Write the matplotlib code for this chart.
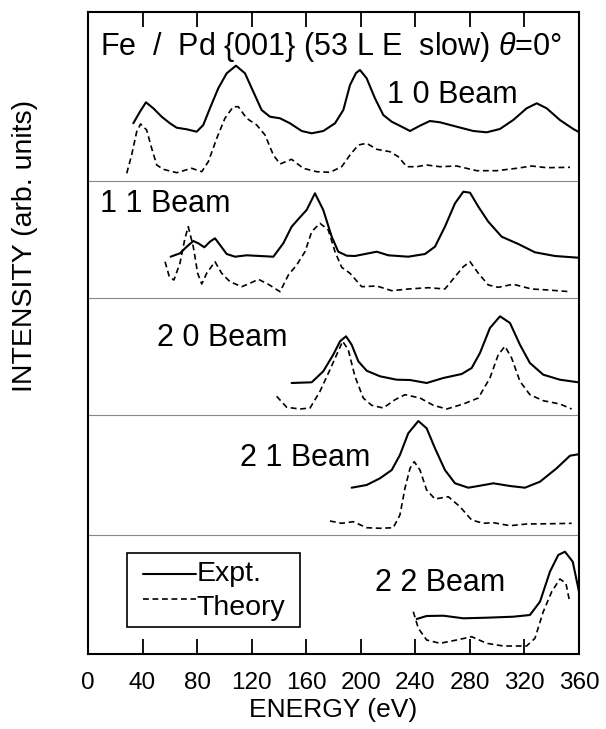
import matplotlib
matplotlib.use("Agg")
import matplotlib.pyplot as plt
from matplotlib.lines import Line2D
from matplotlib.patches import Rectangle

plt.rcParams['font.family'] = ['Liberation Sans', 'DejaVu Sans']
plt.rcParams['mathtext.fontset'] = 'custom'
plt.rcParams['mathtext.it'] = 'Liberation Sans:italic'

# ---------------- data (energy in eV, intensity in arbitrary units) ----------------
beams = ["1 0 Beam", "1 1 Beam", "2 0 Beam", "2 1 Beam", "2 2 Beam"]
offsets = [473, 356, 239, 119, 0]          # vertical offset of each beam panel
separators = [473, 356, 239, 119]

e10_expt = [33.2, 38.1, 42.5, 47.9, 54.0, 60.1, 65.0, 72.4, 79.7, 84.5, 89.4, 95.5, 101.7, 108.5, 115.1, 121.2, 127.3, 133.4, 140.8, 148.1, 156.7, 164.0, 172.5, 181.1, 187.2, 192.1, 196.5, 199.4, 204.3, 210.4, 216.5, 222.7, 230.0, 236.1, 243.4, 250.7, 258.1, 270.3, 282.5, 292.3, 302.0, 311.8, 321.6, 329.0, 336.3, 346.0, 355.8, 359.8]
i10_expt = [57.7, 69.3, 78.7, 72.7, 64.3, 57.7, 53.3, 51.7, 49.3, 56, 72.7, 92.7, 107.7, 115.3, 107.7, 89.3, 71, 64.3, 62.7, 57.7, 50, 47.7, 50, 57.7, 71, 96, 108, 111, 102.7, 82.7, 66, 59.3, 54.3, 50, 55.3, 60, 58.7, 54.3, 50, 48.7, 52, 61, 72.7, 77.7, 72.7, 61, 52, 49]
e10_theo = [28.4, 32.0, 35.7, 38.6, 43.0, 46.7, 50.4, 55.2, 65.0, 76.0, 83.4, 88.2, 94.4, 100.4, 106.5, 110.2, 116.3, 123.7, 129.8, 135.9, 140.8, 149.3, 157.8, 167.7, 177.4, 186.0, 192.1, 198.2, 204.3, 211.7, 221.4, 227.5, 233.7, 241.0, 248.3, 258.1, 270.3, 285.0, 299.6, 314.3, 325.3, 336.3, 353.4]
i10_theo = [7.7, 26, 49.3, 57, 51, 32.7, 16, 11.7, 8.3, 12.7, 9.3, 19.3, 42.7, 62.7, 74.3, 74.3, 62.7, 56, 46, 26, 17, 21.7, 12.7, 9.3, 8.7, 14.3, 26, 36, 37.7, 31.7, 29.3, 24.3, 14.3, 14.3, 16, 14.3, 15, 10.3, 10.3, 12.7, 15, 13.3, 13.7]

e11_expt = [60.6, 67.4, 72.4, 77.2, 80.9, 85.3, 89.4, 93.1, 96.8, 101.7, 107.8, 116.3, 126.1, 135.9, 143.2, 149.3, 155.4, 160.3, 166.4, 172.5, 178.7, 183.5, 189.7, 195.7, 203.1, 211.7, 220.2, 234.8, 247.1, 254.4, 261.7, 269.1, 275.2, 280.1, 286.2, 293.5, 303.3, 315.5, 327.7, 342.4, 359.5]
i11_expt = [41.3, 44.7, 51.3, 57, 54.7, 50.7, 56.3, 59.7, 53, 44, 41.3, 42.7, 42, 41.3, 54.7, 71.3, 80.7, 88, 104.7, 88, 61.3, 46.3, 42.3, 42, 44, 46.3, 42.7, 41.3, 44, 51.3, 71.3, 94.7, 106.3, 105.3, 91.3, 76.3, 61.3, 54, 45.7, 42, 40.3]
e11_theo = [56.5, 59.6, 63.0, 67.4, 71.1, 73.5, 77.2, 80.4, 83.4, 87.0, 93.1, 98.0, 104.1, 112.7, 118.8, 124.9, 132.2, 140.8, 146.9, 153.0, 159.1, 164.0, 170.1, 176.2, 181.1, 186.0, 192.1, 200.7, 211.7, 222.7, 234.8, 249.5, 261.7, 269.1, 275.2, 280.1, 286.2, 293.5, 300.8, 311.8, 325.3, 337.5, 353.4]
i11_theo = [36.3, 21.3, 18, 34.7, 59.7, 71.3, 51.3, 24.7, 14, 24.7, 36.3, 24.7, 16.3, 11.3, 14.7, 18.7, 13.7, 6.3, 23, 33, 46.3, 66.3, 74.7, 68, 46.3, 30.7, 24.7, 11.3, 12, 7.3, 9, 10.3, 9, 21.3, 31.3, 36.3, 24.7, 13, 10.7, 13.7, 9, 8, 6.3]

e20_expt = [149.3, 164.0, 172.5, 179.8, 184.8, 189.2, 193.3, 198.2, 204.3, 214.1, 226.3, 236.1, 248.3, 260.5, 274.0, 281.3, 287.4, 294.7, 302.1, 309.4, 316.7, 324.0, 333.8, 346.0, 359.5]
i20_expt = [32, 32.7, 43.7, 60.3, 73.7, 78.7, 70.3, 53.7, 44.3, 38.7, 35.3, 35, 32, 37, 41, 47, 62, 87, 98.7, 92, 70.3, 52, 40.3, 35.3, 32.7]
e20_theo = [138.3, 145.7, 155.4, 162.8, 170.1, 177.4, 182.3, 186.7, 190.8, 195.7, 201.8, 208.0, 216.5, 225.1, 232.4, 243.4, 253.2, 263.0, 275.2, 286.2, 294.7, 300.8, 305.7, 310.6, 316.7, 324.0, 333.8, 346.0, 354.6]
i20_theo = [18.7, 7.7, 6, 7, 23.7, 45.3, 60.3, 73.7, 65.3, 38.7, 17, 9.7, 7, 15.3, 20.3, 17, 9.7, 6, 11, 17, 37, 60.3, 68.7, 57, 33.7, 20.3, 14.3, 11, 6]

e21_expt = [193.3, 204.3, 214.1, 222.7, 228.7, 234.8, 242.2, 248.3, 254.4, 261.7, 269.1, 278.8, 287.4, 297.2, 309.4, 320.4, 331.4, 343.6, 353.4, 359.5]
i21_expt = [47.3, 50, 56.7, 65, 80, 101.7, 114, 106.7, 86.7, 65, 51.7, 47.3, 49.3, 51.7, 49, 47.3, 53.3, 66.7, 79.3, 80.7]
e21_theo = [177.4, 186.0, 194.5, 204.3, 214.1, 223.8, 228.7, 232.4, 236.1, 239.2, 243.4, 248.3, 254.4, 264.2, 272.7, 281.3, 289.8, 297.2, 309.4, 321.6, 341.1, 354.6]
i21_theo = [14, 11.7, 13.3, 7.3, 6.7, 7.3, 20, 46.7, 66.7, 73.3, 65, 45, 36, 38.3, 28.3, 15, 11.7, 12.3, 9.3, 11, 11.3, 11.7]

e22_expt = [241.0, 248.3, 260.5, 275.2, 292.3, 311.8, 324.0, 331.4, 338.7, 344.8, 349.7, 355.4, 360.0]
i22_expt = [35, 38, 38.3, 35.7, 36.3, 37.3, 39, 52.3, 82.3, 99, 102.3, 92.3, 62.3]
e22_theo = [238.5, 242.2, 248.3, 258.1, 270.3, 281.3, 292.3, 304.5, 321.6, 327.7, 333.8, 340.0, 346.0, 350.4, 352.9]
i22_theo = [42.3, 25.7, 14, 10.7, 14, 17.3, 10.7, 8, 8, 15.7, 42.3, 62.3, 75, 70.7, 54]

expt = [(e10_expt, i10_expt), (e11_expt, i11_expt), (e20_expt, i20_expt), (e21_expt, i21_expt), (e22_expt, i22_expt)]
theo = [(e10_theo, i10_theo), (e11_theo, i11_theo), (e20_theo, i20_theo), (e21_theo, i21_theo), (e22_theo, i22_theo)]

xticks = [0, 40, 80, 120, 160, 200, 240, 280, 320, 360]
title = "Fe  /  Pd {001} (53 L E  slow) $\\theta$=0°"
label_pos = [(219, 559), (8.8, 450), (50.6, 316), (111.4, 196), (210.4, 71)]
legend_labels = ["Expt.", "Theory"]

# ---------------- plotting ----------------
fig = plt.figure(figsize=(6.06, 7.29), dpi=100)
ax = fig.add_axes([88/606, 75/729, 491/606, 642/729])
ax.set_xlim(0, 360)
ax.set_ylim(0, 642)

for s in separators:
    ax.axhline(s, color='#888888', lw=0.8)

SOLID = dict(color='black', lw=1.5, solid_joinstyle='round', solid_capstyle='round')
DASHED = dict(color='black', lw=1.2, dashes=(3.5, 2.2), dash_joinstyle='round')

for (ex, ey), (tx, ty), off in zip(expt, theo, offsets):
    ax.plot(ex, [v + off for v in ey], **SOLID)
    ax.plot(tx, [v + off for v in ty], **DASHED)

for name, (x, y) in zip(beams, label_pos):
    ax.text(x, y, name, fontsize=22, ha='left', va='center')

ax.text(8.8, 607, title, fontsize=22, ha='left', va='center')

for sp in ax.spines.values():
    sp.set_linewidth(1.5)

ax.set_xticks(xticks)
ax.set_xticklabels([str(t) for t in xticks])
ax.tick_params(axis='x', direction='in', length=11, width=1.3, top=True, labelsize=17.5, pad=13)
ax.set_yticks([])

ax.set_xlabel("ENERGY (eV)", fontsize=19, labelpad=3)
fig.text(25/606, (729-246)/729, "INTENSITY (arb. units)", rotation=90, fontsize=20.5,
         ha='center', va='center')

# legend box drawn by hand (axes-fraction coordinates)
ax.add_patch(Rectangle((0.0794, 0.0421), 0.3524, 0.1152, transform=ax.transAxes,
                       facecolor='white', edgecolor='black', lw=1.2, zorder=5))
ax.add_line(Line2D([0.112, 0.220], [0.124, 0.124], transform=ax.transAxes, zorder=6, **SOLID))
ax.add_line(Line2D([0.112, 0.220], [0.086, 0.086], transform=ax.transAxes, zorder=6, **DASHED))
ax.text(0.221, 0.113, legend_labels[0], transform=ax.transAxes, fontsize=20.5,
        ha='left', va='baseline', zorder=6)
ax.text(0.221, 0.061, legend_labels[1], transform=ax.transAxes, fontsize=20.5,
        ha='left', va='baseline', zorder=6)

fig.savefig("out.png", dpi=100)
